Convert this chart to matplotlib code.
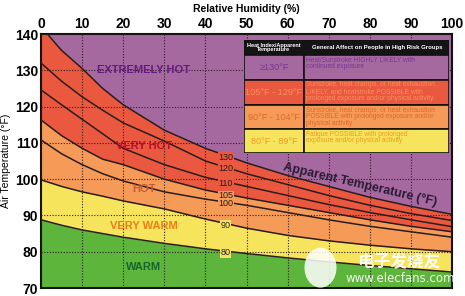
import numpy as np
import matplotlib.pyplot as plt
from matplotlib.patches import Rectangle, Ellipse

plt.rcParams['font.family'] = ['Liberation Sans', 'DejaVu Sans']

# relative humidity (%) and air temperature (F) along each heat-index curve
rh = [0, 5, 10, 15, 20, 30, 40, 50, 60, 70, 80, 90, 100]
hi130 = [142, 135.5, 130.5, 125, 120.5, 113.5, 108.5, 104.5, 101, 98, 95, 92.5, 90.3]
hi120 = [132, 127, 122.7, 119, 115.5, 110.5, 105, 101.5, 98.5, 95.5, 92.8, 90.5, 88.6]
hi110 = [124.6, 120.5, 116.5, 112.5, 108.5, 104, 100.5, 98, 95.5, 93, 90.8, 88.8, 86.9]
hi105 = [116.3, 112, 108.5, 105.5, 104, 100, 97, 94.8, 92.8, 90.8, 88.8, 87, 85.5]
hi100 = [110.8, 107, 104, 101.5, 99.5, 96.5, 94.5, 92.8, 90.8, 88.8, 87, 85.5, 84]
hi90 = [99.8, 98, 96.5, 95.3, 94, 91.8, 89, 86.5, 84.5, 83, 81.8, 80.8, 80]
hi80 = [88.8, 87.3, 86, 85, 84, 82.3, 80.8, 79.5, 78.3, 77.2, 76.2, 75.3, 74.4]

curve_names = ['130', '120', '110', '105', '100', '90', '80']
zones = ['EXTREMELY HOT', 'VERY HOT', 'HOT', 'VERY WARM', 'WARM']
zone_temp = [130, 109, 97.3, 87, 75.8]

purple = '#a5699f'
red = '#e9583f'
orange = '#f69a58'
yellow = '#f6e45c'
green = '#5db53b'

fig = plt.figure(figsize=(4.65, 2.96), dpi=100)
ax = fig.add_axes([41/465, 8/296, 411/465, 254/296])

# stacked fills, drawn from the top band down
ax.fill_between(rh, 70, 145, color=purple, lw=0, zorder=1)
ax.fill_between(rh, 70, hi130, color=red, lw=0, zorder=1)
ax.fill_between(rh, 70, hi105, color=orange, lw=0, zorder=1)
ax.fill_between(rh, 70, hi90, color=yellow, lw=0, zorder=1)
ax.fill_between(rh, 70, hi80, color=green, lw=0, zorder=1)

ax.set_xlim(0, 100)
ax.set_ylim(70, 140)
ax.set_xticks(range(0, 101, 10))
ax.set_yticks(range(70, 141, 10))
ax.grid(True, ls=(0, (1, 1.5)), color='#2e2020', lw=0.8)
ax.set_axisbelow(False)
ax.xaxis.tick_top()
ax.xaxis.set_label_position('top')
ax.tick_params(length=0, labelsize=10, pad=2)
for t in ax.get_xticklabels() + ax.get_yticklabels():
    t.set_fontweight('bold')
ax.set_xlabel('Relative Humidity (%)', fontsize=7.5, fontweight='bold', labelpad=4)
ax.set_ylabel('Air Temperature (°F)', fontsize=7.5, labelpad=3)
for s in ax.spines.values():
    s.set_linewidth(1.5)
    s.set_color('#111111')

curves = [hi130, hi120, hi110, hi105, hi100, hi90, hi80]
label_bg = [red, red, red, orange, orange, yellow, yellow]
for name, c, bg in zip(curve_names, curves, label_bg):
    ax.plot(rh, c, color='#2b1d1d', lw=1.1, zorder=3)
    y = np.interp(45, rh, c) - 0.4
    ax.text(45, y, name, ha='center', va='center', fontsize=6.5, color='#2b1d1d',
            bbox=dict(fc=bg, ec='none', pad=0.3), zorder=4)

zone_colors = ['#661a85', '#b3102c', '#cc5a32', '#f07c18', '#17652b']
for z, t, col in zip(zones, zone_temp, zone_colors):
    ax.text(25, t, z, ha='center', va='center', fontsize=8, fontweight='bold',
            color=col, zorder=4)

ax.text(77.5, 98.3, 'Apparent Temperature (°F)', rotation=-13, ha='center', va='center',
        fontsize=9, fontweight='bold', color='#2a1b35', zorder=4)

# watermark
ax.add_patch(Ellipse((68, 75.6), 7.8, 11, color='white', alpha=0.85, lw=0, zorder=5))
ax.text(87, 77, '电子发烧友', ha='center', va='center', fontsize=12, color='white',
        fontweight='bold', family=['Noto Sans CJK SC', 'DejaVu Sans'], alpha=0.9, zorder=5)
ax.text(87.5, 72.5, 'www.elecfans.com', ha='center', va='center', fontsize=8.5,
        color='white', family='DejaVu Sans', alpha=0.9, zorder=5)

# risk table
tax = fig.add_axes([244/465, 1 - 153/296, 205/465, 113/296])
tax.set_xlim(0, 205)
tax.set_ylim(113, 0)
tax.axis('off')

ranges = ['≥130°F', '105°F - 129°F', '90°F - 104°F', '80°F - 89°F']
effects = ['Heat/Sunstroke HIGHLY LIKELY with\ncontinued exposure',
           'Sunstroke, heat cramps, or heat exhaustion\nLIKELY, and heatstroke POSSIBLE with\nprolonged exposure and/or physical activity',
           'Sunstroke, heat cramps, or heat exhaustion\nPOSSIBLE with prolonged exposure and/or\nphysical activity',
           'Fatigue POSSIBLE with prolonged\nexposure and/or physical activity']
row_bg = [purple, red, orange, yellow]
row_fg = ['#7a3597', '#f7925a', '#dc6a28', '#f09a26']
row_top = [15, 40, 65, 89]
row_h = [25, 25, 24, 24]

tax.add_patch(Rectangle((0, 0), 205, 15, fc='#141414', ec='#111111', lw=1.2))
tax.text(30, 7.5, 'Heat Index/Apparent\nTemperature', ha='center', va='center',
         fontsize=4, color='white', fontweight='bold', linespacing=1.0)
tax.text(133, 7.5, 'General Affect on People in High Risk Groups', ha='center',
         va='center', fontsize=4.3, color='white', fontweight='bold')
for r, e, bg, fg, top, h in zip(ranges, effects, row_bg, row_fg, row_top, row_h):
    tax.add_patch(Rectangle((0, top), 60, h, fc=bg, ec='#111111', lw=1.2))
    tax.add_patch(Rectangle((60, top), 145, h, fc=bg, ec='#111111', lw=1.2))
    tax.text(30, top + h / 2, r, ha='center', va='center', fontsize=6.6, color=fg)
    tax.text(62, top + 1.5, e, ha='left', va='top', fontsize=4.75, color=fg,
             linespacing=0.98)

fig.savefig('out.png', dpi=100)
